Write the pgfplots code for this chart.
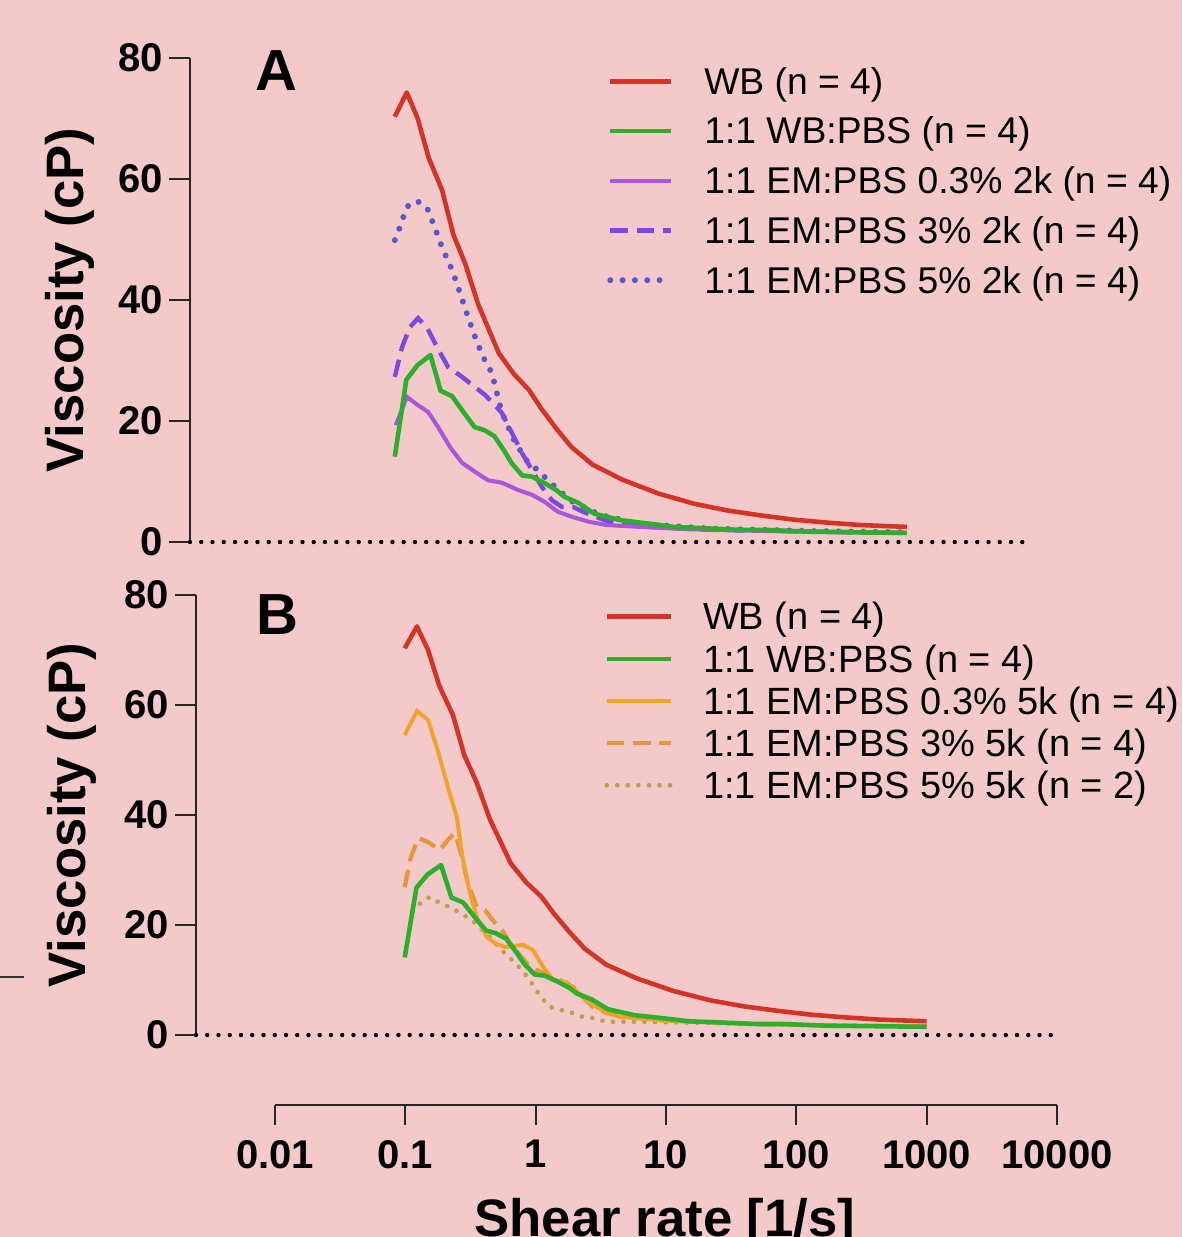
\documentclass[border=0pt]{standalone}
\usepackage{fontspec}
\setmainfont{Liberation Sans}
\usepackage{pgfplots}
\usepackage{pgfplotstable}
\pgfplotsset{compat=1.18}

\definecolor{bg}{RGB}{243,201,202}
\definecolor{wb}{RGB}{212,52,38}
\definecolor{pbs}{RGB}{44,176,44}
\definecolor{pmA}{RGB}{168,86,218}
\definecolor{pmB}{RGB}{124,72,226}
\definecolor{pmC}{RGB}{92,86,204}
\definecolor{orA}{RGB}{242,162,38}
\definecolor{orB}{RGB}{228,152,58}
\definecolor{orC}{RGB}{190,158,80}

\newcommand\tickfont{\fontsize{22.8}{26}\selectfont\bfseries}
\newcommand\labfont{\fontsize{30}{34}\selectfont\bfseries}

% whole blood and 1:1 WB:PBS, same curves in both panels
\pgfplotstableread{
x y
0.1 70.3
0.124 74.3
0.151 70.0
0.184 63.5
0.234 58.2
0.287 50.8
0.355 46.0
0.45 39.2
0.65 31.2
0.85 27.8
1.12 25.1
1.4 22.0
1.85 18.6
2.4 15.7
3.5 12.8
6.0 10.3
11.5 8.0
22 6.3
40 5.2
72 4.4
130 3.7
240 3.2
440 2.8
750 2.6
1000 2.5
}\wbdata

\pgfplotstableread{
x y
0.1 14.1
0.123 26.8
0.15 29.2
0.19 30.9
0.228 25.0
0.28 24.1
0.343 21.5
0.42 19.0
0.5 18.5
0.6 17.5
0.72 15.0
0.82 13.0
0.99 11.0
1.18 10.8
1.49 9.7
1.85 8.5
2.1 7.5
2.7 6.5
3.6 4.7
5.8 3.6
10 3.0
15 2.5
25 2.3
50 2.0
80 2.0
170 1.7
400 1.6
1000 1.5
}\pbsdata

\tikzset{zeroline/.style={black, line width=2.5pt, line cap=round, dash pattern=on 0pt off 6.4pt}}

\begin{document}
\begin{tikzpicture}
\useasboundingbox (0,0) rectangle (236.4mm,-247.4mm);
\fill[bg] (0,0) rectangle (236.4mm,-247.4mm);

% panel A
\begin{axis}[
  at={(38mm,-108.4mm)}, anchor=south west,
  scale only axis, width=167.6mm, height=96.8mm,
  xmode=log, xmin=0.002512, xmax=8851, ymin=0, ymax=80,
  axis x line=none, axis y line=left,
  y axis line style={-, line width=1.1pt, black!85},
  ytick={0,20,40,60,80}, yticklabels={0,20,40,60,80},
  tick align=outside, major tick length=4.2mm,
  tick style={line width=1.1pt, black!85},
  yticklabel style={font=\tickfont},
  ylabel={Viscosity (cP)},
  every axis y label/.style={at={(axis description cs:-0.143,0.5)}, rotate=90, anchor=center, font=\labfont},
  clip=false, reverse legend, legend cell align=left,
  legend style={at={(0.4976,0.995)}, anchor=north west, draw=none, fill=none, inner sep=0pt,
    font=\fontsize{21.2}{25}\selectfont, row sep=5pt,
    nodes={inner sep=0pt, text height=19pt, text depth=4.3pt},
    /tikz/every odd column/.append style={column sep=6mm}},
  legend image code/.code={\draw[#1] (0mm,0mm) -- (12.2mm,0mm);},
]
\addplot[zeroline, forget plot] coordinates {(0.002512,0) (8851,0)};
\addplot[pmC, line width=3.4pt, line cap=round, dash pattern=on 0pt off 7pt] coordinates {
(0.100,49.9) (0.110,52.1) (0.124,55.4) (0.149,56.4) (0.179,55.2) (0.206,51.9)
(0.238,48.3) (0.280,45.0) (0.323,41.2) (0.373,37.2) (0.424,33.9) (0.489,30.6)
(0.574,27.9) (0.628,24.6) (0.688,21.3) (0.869,16.5) (1.10,13.1) (1.31,11.9)
(1.57,10.2) (2.34,6.9) (4.0,4.5) (8.2,3.0) (30,2.2) (200,1.8) (1000,1.6)};
\addlegendentry{1:1 EM:PBS 5\% 2k (n = 4)}
\addplot[pmB, line width=2.5pt, dash pattern=on 10pt off 5pt] coordinates {
(0.100,27.3) (0.114,32.2) (0.131,35.5) (0.152,37.0) (0.179,35.4) (0.214,32.2)
(0.261,28.9) (0.335,27.3) (0.424,25.6) (0.507,24.3) (0.607,22.6) (0.688,21.3)
(0.824,18.0) (0.986,14.7) (1.18,11.9) (1.41,9.1) (1.69,6.9) (2.02,5.8)
(2.47,5.8) (2.95,5.0) (4.5,3.5) (8,2.6) (30,2.0) (200,1.7) (1000,1.5)};
\addlegendentry{1:1 EM:PBS 3\% 2k (n = 4)}
\addplot[pmA, line width=2.3pt] coordinates {
(0.102,19.3) (0.124,24.0) (0.152,22.6) (0.182,21.5) (0.218,19.0) (0.270,15.7)
(0.335,13.1) (0.424,11.6) (0.535,10.2) (0.688,9.8) (0.917,8.6) (1.18,7.8)
(1.49,6.6) (1.88,5.0) (2.47,4.1) (3.35,3.3) (4.55,2.8) (8.2,2.5) (20,2.1)
(100,1.8) (1000,1.5)};
\addlegendentry{1:1 EM:PBS 0.3\% 2k (n = 4)}
\addplot[pbs, line width=2.6pt, line join=round] table {\pbsdata};
\addlegendentry{1:1 WB:PBS (n = 4)}
\addplot[wb, line width=2.6pt, line join=round] table {\wbdata};
\addlegendentry{WB (n = 4)}
\end{axis}

% panel B
\begin{axis}[
  at={(39.2mm,-207mm)}, anchor=south west,
  scale only axis, width=172.2mm, height=88mm,
  xmode=log, xmin=0.002512, xmax=10000, ymin=0, ymax=80,
  axis x line=none, axis y line=left,
  y axis line style={-, line width=1.1pt, black!85},
  ytick={0,20,40,60,80}, yticklabels={0,20,40,60,80},
  tick align=outside, major tick length=4.2mm,
  tick style={line width=1.1pt, black!85},
  yticklabel style={font=\tickfont},
  ylabel={Viscosity (cP)},
  every axis y label/.style={at={(axis description cs:-0.144,0.5)}, rotate=90, anchor=center, font=\labfont},
  clip=false, reverse legend, legend cell align=left,
  legend style={at={(0.4739,0.999)}, anchor=north west, draw=none, fill=none, inner sep=0pt,
    font=\fontsize{21.6}{25}\selectfont, row sep=0.3pt,
    nodes={inner sep=0pt, text height=19.4pt, text depth=4.3pt},
    /tikz/every odd column/.append style={column sep=6mm}},
  legend image code/.code={\draw[#1] (0mm,0mm) -- (12.8mm,0mm);},
]
\addplot[zeroline, forget plot] coordinates {(0.002512,0) (10000,0)};
\addplot[orC, line width=2.7pt, line cap=round, dash pattern=on 0pt off 6pt] coordinates {
(0.115,22.5) (0.136,24.3) (0.156,25.1) (0.186,24.0) (0.230,23.1) (0.327,20.9)
(0.45,17.8) (0.618,14.2) (0.698,13.3) (0.910,10.0) (0.995,8.5) (1.125,6.7)
(1.30,5.1) (1.60,4.5) (1.95,4.0) (2.32,3.3) (2.77,3.1) (3.54,2.4) (5.04,2.4)
(7.18,2.4) (20,2.2) (100,1.8) (1000,1.6)};
\addlegendentry{1:1 EM:PBS 5\% 5k (n = 2)}
\addplot[orB, line width=2.4pt, dash pattern=on 10pt off 5pt] coordinates {
(0.1,26.9) (0.110,31.8) (0.126,35.8) (0.151,35.1) (0.186,33.6) (0.214,35.5)
(0.243,36.7) (0.274,32.4) (0.305,27.6) (0.357,23.3) (0.412,22.7) (0.491,20.4)
(0.556,19.1) (0.640,16.7) (0.9,12.5) (1.2,11.0) (1.55,10.0) (1.95,8.7)
(2.77,5.1) (3.54,4.0) (10,2.6) (50,2.0) (200,1.7) (1000,1.6)};
\addlegendentry{1:1 EM:PBS 3\% 5k (n = 4)}
\addplot[orA, line width=2.2pt] coordinates {
(0.1,54.5) (0.124,58.9) (0.151,57.3) (0.179,51.8) (0.214,45.1) (0.251,39.6)
(0.274,33.1) (0.300,28.2) (0.327,24.5) (0.364,20.9) (0.427,17.8) (0.491,16.7)
(0.586,16.0) (0.805,16.4) (0.959,15.5) (1.15,12.4) (1.37,10.0) (1.75,9.6)
(1.95,8.5) (2.77,5.5) (3.54,4.0) (4.46,3.3) (10,2.6) (50,2.0) (200,1.7) (1000,1.6)};
\addlegendentry{1:1 EM:PBS 0.3\% 5k (n = 4)}
\addplot[pbs, line width=2.6pt, line join=round] table {\pbsdata};
\addlegendentry{1:1 WB:PBS (n = 4)}
\addplot[wb, line width=2.6pt, line join=round] table {\wbdata};
\addlegendentry{WB (n = 4)}
\end{axis}

% shared shear rate axis
\begin{axis}[
  at={(55mm,-221mm)}, anchor=south west,
  scale only axis, width=156.4mm, height=10mm,
  xmode=log, xmin=0.01, xmax=10000, ymin=0, ymax=1,
  axis y line=none, axis x line=bottom,
  x axis line style={-, line width=1.1pt, black!85},
  xtick={0.01,0.1,1,10,100,1000,10000},
  xticklabels={0.01,0.1,1,10,100,1000,10000},
  xminorticks=false, tick align=outside, major tick length=4mm,
  tick style={line width=1.1pt, black!85},
  xticklabel style={font=\tickfont, yshift=-1.8mm},
]
\end{axis}

\node[overlay, anchor=base, font=\labfont] at (133mm,-247.2mm) {Shear rate [1/s]};
\node[font=\fontsize{33}{36}\selectfont\bfseries] at (55.2mm,-14.2mm) {A};
\node[font=\fontsize{33}{36}\selectfont\bfseries] at (55.4mm,-123mm) {B};
\draw[line width=1.2pt, black!80] (0,-195.4mm) -- (4.8mm,-195.4mm);
\end{tikzpicture}
\end{document}
